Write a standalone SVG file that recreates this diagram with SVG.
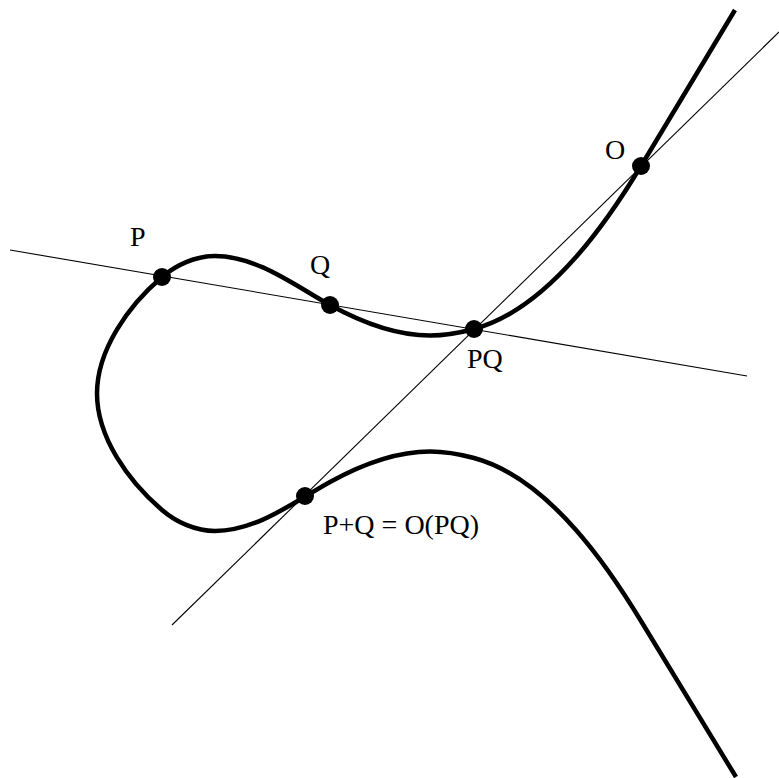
<svg xmlns="http://www.w3.org/2000/svg" width="779" height="778" viewBox="0 0 779 778">
<style>
.curve{fill:none;stroke:#000;stroke-width:4.5;stroke-linejoin:round}
.line{fill:none;stroke:#000;stroke-width:1.1}
.dot{fill:#000}
.lbl{font-family:"Liberation Serif","Times New Roman",serif;font-size:28px;fill:#000}
</style>
<rect width="779" height="778" fill="#fff"/>
<g id="connectors">
<line class="line" x1="10" y1="250" x2="747" y2="376"/>
<line class="line" x1="172" y1="625" x2="779" y2="32"/>
</g>
<g id="curve">
<path class="curve" d="M735,10 L641,166 C612.5,213 551.2,308.2 474,329 C459.5,332.9 445,335.5 430,335.5 C395,335.5 358.9,320.9 330,305 C295,285.7 257,256 215,256 C196,256 176.4,264.6 162,277 C128,306 97,350 97,393.5 C97,437 128,481 162,510 C176.4,522.4 196,531 215,531 C257,531 295,501.3 330,482 C358.9,466.1 395,451.5 430,451.5 C445,451.5 459.5,454.1 474,458 C551.2,478.8 612.5,574 641,621 L736,777"/>
</g>
<g id="P"><circle class="dot" cx="162" cy="277" r="9"/><text class="lbl" x="130" y="246">P</text></g>
<g id="Q"><circle class="dot" cx="330" cy="305" r="9"/><text class="lbl" x="310" y="274">Q</text></g>
<g id="PQ"><circle class="dot" cx="474" cy="329" r="9"/><text class="lbl" x="467" y="368">PQ</text></g>
<g id="O"><circle class="dot" cx="641" cy="166" r="9"/><text class="lbl" x="605" y="159">O</text></g>
<g id="PplusQ"><circle class="dot" cx="305" cy="496" r="9"/><text class="lbl" x="323" y="534">P+Q = O(PQ)</text></g>
</svg>
